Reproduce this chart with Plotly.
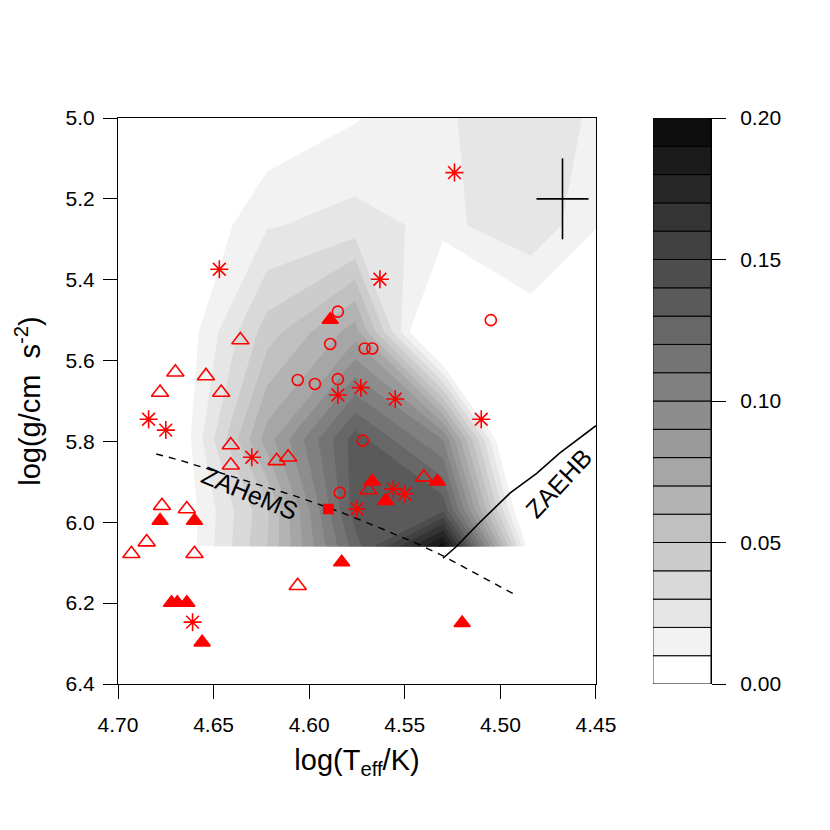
import plotly.graph_objects as go

# density grid (log Teff columns, log g rows)
GRID_TEFF = [4.438, 4.484, 4.530, 4.576, 4.622, 4.668, 4.714]
GRID_LOGG = [5.0, 5.265, 5.53, 5.795, 5.97, 6.06]
DENSITY = [
    [0.0164, 0.025, 0.019, 0.0092, 0.001, 0.0, 0.0],
    [0.005, 0.028, 0.017, 0.024, 0.019, -0.004, 0.0],
    [-0.02, 0.0, -0.03, 0.075, 0.045, 0.0, 0.0],
    [-0.05, -0.05, 0.10, 0.135, 0.075, 0.0, 0.0],
    [-0.02, -0.02, 0.138, 0.135, 0.048, 0.0, 0.0],
    [0.0, 0.0, 0.195, 0.125, 0.05, 0.0, 0.0],
]

LEVELS = [i / 100 for i in range(20)]
BAND_GRAYS = ["#FFFFFF", "#F2F2F2", "#E6E6E6", "#D9D9D9", "#CCCCCC", "#C0C0C0",
              "#B3B3B3", "#A6A6A6", "#9A9A9A", "#8D8D8D", "#808080", "#747474",
              "#676767", "#5A5A5A", "#4D4D4D", "#414141", "#343434", "#272727",
              "#1B1B1B", "#0E0E0E"]

# stars
ASTERISK_X = [4.524, 4.647, 4.563, 4.510, 4.555, 4.573, 4.585, 4.684, 4.675,
              4.630, 4.661, 4.575, 4.556, 4.550]
ASTERISK_Y = [5.135, 5.374, 5.399, 5.745, 5.695, 5.667, 5.685, 5.745, 5.772,
              5.839, 6.247, 5.967, 5.918, 5.930]
OPEN_TRI_X = [4.636, 4.670, 4.678, 4.654, 4.646, 4.641, 4.641, 4.617, 4.611,
              4.677, 4.664, 4.685, 4.693, 4.660, 4.606, 4.569, 4.540]
OPEN_TRI_Y = [5.549, 5.629, 5.679, 5.638, 5.679, 5.809, 5.859, 5.848, 5.839,
              5.959, 5.967, 6.049, 6.078, 6.078, 6.157, 5.920, 5.889]
FILLED_TRI_X = [4.589, 4.678, 4.660, 4.672, 4.669, 4.664, 4.656, 4.583, 4.567,
                4.560, 4.533, 4.520]
FILLED_TRI_Y = [5.499, 5.996, 5.996, 6.199, 6.199, 6.199, 6.297, 6.099, 5.899,
                5.947, 5.899, 6.249]
CIRCLE_X = [4.585, 4.589, 4.606, 4.597, 4.585, 4.505, 4.571, 4.567, 4.572, 4.584]
CIRCLE_Y = [5.479, 5.559, 5.648, 5.658, 5.646, 5.500, 5.570, 5.570, 5.798, 5.927]
SQUARE_X = [4.590]
SQUARE_Y = [5.967]

# typical errors
ERR_X, ERR_Y = [4.4675], [5.2]
ERR_DX, ERR_DY = [0.0136], [0.1]

# ZAHeMS / ZAEHB
ZAHEMS_X = [4.680, 4.668, 4.606, 4.584, 4.563, 4.542, 4.530, 4.492]
ZAHEMS_Y = [5.831, 5.846, 5.937, 5.974, 6.014, 6.056, 6.083, 6.180]
ZAEHB_X = [4.530, 4.523, 4.512, 4.495, 4.481, 4.469, 4.450]
ZAEHB_Y = [6.089, 6.060, 6.006, 5.928, 5.879, 5.829, 5.761]

X_TICKS = [4.70, 4.65, 4.60, 4.55, 4.50, 4.45]
Y_TICKS = [5.0, 5.2, 5.4, 5.6, 5.8, 6.0, 6.2, 6.4]
CB_TICKS = [0.0, 0.05, 0.10, 0.15, 0.20]

FONT = "Liberation Sans, Arial, sans-serif"
RED = "#FF0000"

n = len(BAND_GRAYS)
colorscale = [[i / (n - 1), c] for i, c in enumerate(BAND_GRAYS)]

fig = go.Figure()

fig.add_trace(go.Contour(
    x=GRID_TEFF, y=GRID_LOGG, z=DENSITY,
    contours=dict(start=0.01, end=0.19, size=0.01, coloring="fill", showlines=False),
    colorscale=colorscale, line=dict(width=0, smoothing=0), showscale=False,
    hoverinfo="skip",
))

fig.add_trace(go.Scatter(x=ZAHEMS_X, y=ZAHEMS_Y, mode="lines",
                         line=dict(color="black", width=1.4, dash="7px,6px")))
fig.add_trace(go.Scatter(x=ZAEHB_X, y=ZAEHB_Y, mode="lines",
                         line=dict(color="black", width=1.6)))

fig.add_trace(go.Scatter(
    x=ERR_X, y=ERR_Y, mode="markers", marker=dict(size=1, color="black"),
    error_x=dict(type="data", array=ERR_DX, width=0, thickness=1.6, color="black"),
    error_y=dict(type="data", array=ERR_DY, width=0, thickness=1.6, color="black"),
))

marker_sets = [
    (ASTERISK_X, ASTERISK_Y, "asterisk-open", 15),
    (OPEN_TRI_X, OPEN_TRI_Y, "triangle-up-open", 15),
    (FILLED_TRI_X, FILLED_TRI_Y, "triangle-up", 14),
    (CIRCLE_X, CIRCLE_Y, "circle-open", 11),
    (SQUARE_X, SQUARE_Y, "square", 9),
]
for xs, ys, sym, size in marker_sets:
    fig.add_trace(go.Scatter(
        x=xs, y=ys, mode="markers",
        marker=dict(symbol=sym, size=size, color=RED, line=dict(color=RED, width=1.6)),
    ))

# key: one outlined box per level band
fig.add_trace(go.Bar(
    x=[0.5] * n, y=[0.01] * n, base=LEVELS, width=1,
    marker=dict(color=BAND_GRAYS, line=dict(color="black", width=1)),
    xaxis="x2", yaxis="y2", hoverinfo="skip",
))

fig.add_annotation(x=4.631, y=5.928, text="ZAHeMS", showarrow=False, textangle=22.5,
                   font=dict(family=FONT, size=25, color="black"))
fig.add_annotation(x=4.4694, y=5.903, text="ZAEHB", showarrow=False, textangle=-47,
                   font=dict(family=FONT, size=25, color="black"))

axis_common = dict(showgrid=False, zeroline=False, showline=True, linecolor="black",
                   linewidth=1, ticks="outside", ticklen=14, tickcolor="black",
                   tickfont=dict(family=FONT, size=21, color="black"))

# the page body adds 8px, so margins are trimmed to keep the same plot box
fig.update_layout(
    width=830, height=830,
    margin=dict(l=110, r=127, t=110, b=154),
    paper_bgcolor="white", plot_bgcolor="white",
    showlegend=False,
    font=dict(family=FONT, color="black"),
    xaxis=dict(domain=[0, 0.806], range=[4.70, 4.45], tickvals=X_TICKS,
               ticktext=[f"{v:.2f}" for v in X_TICKS], mirror=True,
               ticklabelstandoff=8,
               title=dict(text="log(T<sub>eff</sub>/K)", standoff=14,
                          font=dict(family=FONT, size=29)),
               **axis_common),
    yaxis=dict(range=[6.4, 5.0], tickvals=Y_TICKS,
               ticktext=[f"{v:.1f}" for v in Y_TICKS], mirror=True,
               ticklabelstandoff=4,
               title=dict(text="log(g/cm\u00a0\u00a0s<sup>-2</sup>)", standoff=16,
                          font=dict(family=FONT, size=29)),
               **axis_common),
    xaxis2=dict(domain=[0.902, 1.0], range=[0, 1], anchor="y2", showticklabels=False,
                showgrid=False, zeroline=False, showline=False, ticks=""),
    yaxis2=dict(range=[0, 0.2], anchor="x2", side="right", tickvals=CB_TICKS,
                ticktext=[f"{v:.2f}" for v in CB_TICKS], ticklabelstandoff=10,
                **axis_common),
)

fig.write_html("out.html")
